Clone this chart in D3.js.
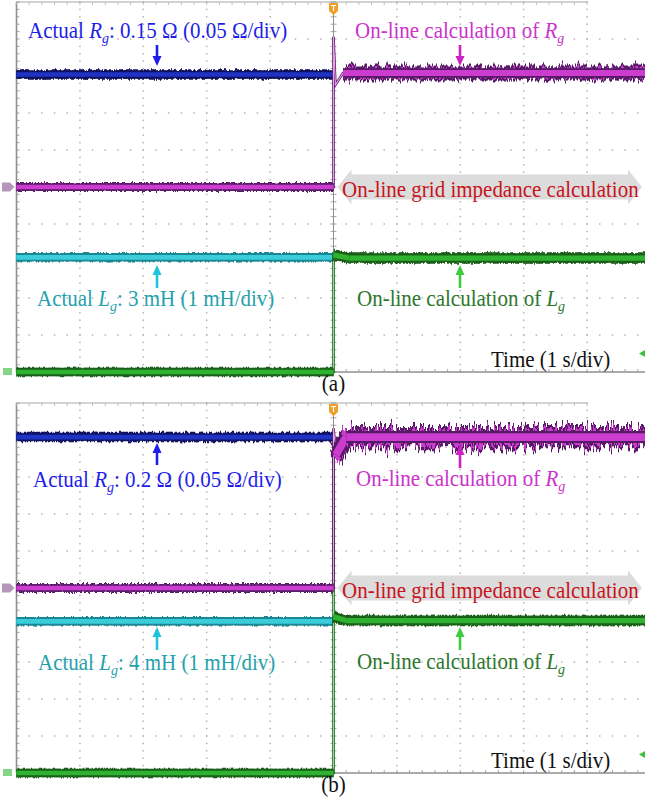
<!DOCTYPE html>
<html>
<head>
<meta charset="utf-8">
<script src="https://cdn.jsdelivr.net/npm/d3@7"></script>
<style>
    body { margin: 0; background: #fff; }
    svg { display: block; }
</style>
</head>
<body>
<div id="chart"></div>
<script>
const panelNames = ["(a)", "(b)"];

const timeDomain = [-5, 5];        // s, 1 s/div, trigger in the middle
const rgDomain = [-0.25, 0.25];    // Ω, 0.05 Ω/div, zero on the centre line
const lgDomain = [0, 10];          // mH, 1 mH/div, zero on the bottom line

const rgActual = [0.152, 0.204];   // Ω, drawn before the trigger
const lgActual = [3.1, 4.1];       // mH
const rgActualText = ["0.15 Ω", "0.2 Ω"];
const lgActualText = ["3 mH", "4 mH"];

// on-line calculations, [time (s), value]
const rgCalc = [
    [[-5, 0], [0, 0], [0, 0.203], [0.03, 0.138], [0.15, 0.154], [5, 0.154]],
    [[-5, 0], [0, 0], [0, 0.216], [0.04, 0.18], [0.2, 0.204], [5, 0.204]]
];
const lgCalc = [
    [[-5, 0], [0, 0], [0, 3.16], [0.25, 3.08], [5, 3.08]],
    [[-5, 0], [0, 0], [0, 9.0], [0, 4.22], [0.2, 4.12], [5, 4.12]]
];

// peak-to-peak noise on the traces (same units as the trace)
const rgActualNoise = [0.004, 0.005];
const lgActualNoise = [0.05, 0.05];
const rgCalcNoise = [0.012, 0.024];
const lgCalcNoise = [0.08, 0.08];

// ---- layout ----
const W = 645, H = 799;
const plotW = 634, plotH = 370, left = 16.5;
const panelTop = [2, 403];
const FONT = "Liberation Serif";

const svg = d3.select("#chart").append("svg")
    .attr("width", W).attr("height", H);
svg.append("rect").attr("width", W).attr("height", H).attr("fill", "#fff");
const defs = svg.append("defs");

const x = d3.scaleLinear().domain(timeDomain).range([left, left + plotW]);
const yDiv = d3.scaleLinear().domain([0, 10]).range([plotH, 0]);
const xDiv = d3.scaleLinear().domain([0, 10]).range([left, left + plotW]);
const yRg = d3.scaleLinear().domain(rgDomain).range([plotH, 0]);
const yLg = d3.scaleLinear().domain(lgDomain).range([plotH, 0]);

// scope noise look: vertical displacement driven by turbulence
let filterCount = 0;
function jitter(seed, px) {
    const id = "jit" + (filterCount++);
    const f = defs.append("filter").attr("id", id)
        .attr("filterUnits", "userSpaceOnUse")
        .attr("x", -10).attr("y", -60).attr("width", 680).attr("height", 500)
        .attr("color-interpolation-filters", "sRGB");
    f.append("feTurbulence").attr("type", "fractalNoise")
        .attr("baseFrequency", "0.45 0.01").attr("numOctaves", 2)
        .attr("seed", seed).attr("result", "n");
    f.append("feColorMatrix").attr("in", "n").attr("type", "matrix")
        .attr("values", "0 0 0 0 0.5  0 1 0 0 0  0 0 0 0 0  0 0 0 0 1")
        .attr("result", "m");
    f.append("feDisplacementMap").attr("in", "SourceGraphic").attr("in2", "m")
        .attr("scale", Math.max(px * 2, 1))
        .attr("xChannelSelector", "R").attr("yChannelSelector", "G");
    return `url(#${id})`;
}

// one trace: thin path for the jumps, noisy band for the flat parts
function drawTrace(g, pts, yScale, st, noisePre, noisePost, seed) {
    const line = d3.line().x(d => x(d[0])).y(d => yScale(d[1]));
    const px = n => Math.abs(yScale(0) - yScale(n));
    const fPre = [jitter(seed, px(noisePre)), jitter(seed + 11, px(noisePre))];
    const fPost = [jitter(seed + 5, px(noisePost)), jitter(seed + 17, px(noisePost)), jitter(seed + 23, px(noisePost))];
    g.append("path").attr("d", line(pts))
        .attr("fill", "none").attr("stroke", st.outer).attr("stroke-width", 2.6);
    g.append("path").attr("d", line(pts))
        .attr("fill", "none").attr("stroke", st.light).attr("stroke-width", 1.1);
    for (let i = 1; i < pts.length; i++) {
        const p0 = pts[i - 1], p1 = pts[i];
        if (Math.abs(x(p1[0]) - x(p0[0])) < 9) continue;   // jumps and dips stay thin
        const pre = p0[0] < 0;
        const fs = pre ? fPre : fPost;
        const w = st.w + (pre ? 0 : px(noisePost) * 0.35);
        fs.forEach(f => {
            const seg = g.append("g").attr("filter", f);
            seg.append("path").attr("d", line([p0, p1]))
                .attr("fill", "none").attr("stroke", st.outer).attr("stroke-width", w);
            seg.append("path").attr("d", line([p0, p1]))
                .attr("fill", "none").attr("stroke", st.inner).attr("stroke-width", w * 0.55);
        });
        g.append("path").attr("d", line([p0, p1]))
            .attr("fill", "none").attr("stroke", st.outer).attr("stroke-width", w * 0.85);
        g.append("path").attr("d", line([p0, p1]))
            .attr("fill", "none").attr("stroke", st.inner).attr("stroke-width", w * 0.55);
    }
}

function arrow(g, xPos, yTail, yTip, color) {
    const dir = yTip > yTail ? 1 : -1;
    g.append("line").attr("x1", xPos).attr("x2", xPos)
        .attr("y1", yTail).attr("y2", yTip - dir * 8)
        .attr("stroke", color).attr("stroke-width", 2.6);
    g.append("path")
        .attr("d", `M${xPos - 4.5},${yTip - dir * 10}L${xPos + 4.5},${yTip - dir * 10}L${xPos},${yTip}Z`)
        .attr("fill", color);
}

// serif text, a little taller than wide like the captured figure
function txt(g, xPos, yPos, color, size) {
    return g.append("text")
        .attr("transform", `translate(${xPos},${yPos}) scale(1,1.1)`)
        .attr("fill", color).attr("font-size", size)
        .style("font-family", FONT);
}

// text with an italic symbol and subscript g
function label(g, xPos, yPos, color, before, sym, after) {
    const t = txt(g, xPos, yPos, color, 21);
    t.append("tspan").text(before);
    t.append("tspan").attr("font-style", "italic").text(sym);
    t.append("tspan").attr("font-style", "italic").attr("font-size", 14).attr("dy", 4.5).text("g");
    if (after) t.append("tspan").attr("dy", -4.5).text(after);
    return t;
}

const blue = { outer: "#10105c", inner: "#1f33c4", light: "#4a5ae0", w: 8.5 };
const magenta = { outer: "#561a66", inner: "#cc3dcf", light: "#e8a0e8", w: 8 };
const cyan = { outer: "#1a8894", inner: "#3ccddb", light: "#9ae8ee", w: 8.5 };
const green = { outer: "#1a5e1a", inner: "#2fb22f", light: "#8ee08e", w: 8.5 };

panelNames.forEach((name, p) => {
    const g = svg.append("g").attr("transform", `translate(0,${panelTop[p]})`);

    // graticule dots
    const minor = d3.range(0, 10.001, 0.2);
    const dots = g.append("g").attr("fill", "#b4b4b4");
    d3.range(1, 10).forEach(r => {
        minor.forEach(m => dots.append("rect")
            .attr("x", xDiv(m) - 0.75).attr("y", yDiv(r) - 0.75)
            .attr("width", 1.5).attr("height", 1.5));
    });
    d3.range(1, 10).filter(c => c !== 5).forEach(c => {
        minor.forEach(m => dots.append("rect")
            .attr("x", xDiv(c) - 0.75).attr("y", yDiv(m) - 0.75)
            .attr("width", 1.5).attr("height", 1.5));
    });

    // frame and centre axis with minor ticks
    const frame = g.append("g").attr("stroke", "#8f8f8f").attr("fill", "none");
    frame.append("line").attr("x1", left).attr("x2", left).attr("y1", 0).attr("y2", plotH).attr("stroke-width", 1.6);
    frame.append("line").attr("x1", left).attr("x2", W).attr("y1", plotH).attr("y2", plotH).attr("stroke-width", 1.6);
    frame.append("line").attr("x1", left).attr("x2", xDiv(9)).attr("y1", 0).attr("y2", 0)
        .attr("stroke", "#a8a8a8").attr("stroke-width", 1.2);
    frame.append("line").attr("x1", x(0)).attr("x2", x(0)).attr("y1", 0).attr("y2", plotH).attr("stroke-width", 1);
    minor.forEach(m => {
        frame.append("line").attr("x1", left).attr("x2", left + 3).attr("y1", yDiv(m)).attr("y2", yDiv(m)).attr("stroke-width", 0.8);
        frame.append("line").attr("x1", x(0) - 3).attr("x2", x(0) + 3).attr("y1", yDiv(m)).attr("y2", yDiv(m)).attr("stroke-width", 0.8);
        frame.append("line").attr("x1", xDiv(m)).attr("x2", xDiv(m)).attr("y1", plotH).attr("y2", plotH - 3).attr("stroke-width", 0.8);
        if (m <= 9) frame.append("line").attr("x1", xDiv(m)).attr("x2", xDiv(m)).attr("y1", 0).attr("y2", 3)
            .attr("stroke", "#b0b0b0").attr("stroke-width", 0.8);
    });

    // grey double arrow behind the calculation label
    const cy = yRg(0), tipL = x(0) + 4, tipR = W - 3;
    g.append("path")
        .attr("d", `M${tipL},${cy}L${tipL + 14},${cy - 17.5}L${tipL + 14},${cy - 12.5}` +
            `L${tipR - 14},${cy - 12.5}L${tipR - 14},${cy - 17.5}L${tipR},${cy}` +
            `L${tipR - 14},${cy + 17.5}L${tipR - 14},${cy + 12.5}L${tipL + 14},${cy + 12.5}` +
            `L${tipL + 14},${cy + 17.5}Z`)
        .attr("fill", "#dcdcdc");

    // traces
    const seed = 3 + p * 40;
    const tr = g.append("g");
    drawTrace(tr, [[timeDomain[0], lgActual[p]], [0, lgActual[p]]], yLg, cyan, lgActualNoise[p], lgActualNoise[p], seed);
    drawTrace(tr, lgCalc[p], yLg, green, lgActualNoise[p], lgCalcNoise[p], seed + 1);
    drawTrace(tr, [[timeDomain[0], rgActual[p]], [0, rgActual[p]]], yRg, blue, rgActualNoise[p], rgActualNoise[p], seed + 2);
    drawTrace(tr, rgCalc[p], yRg, magenta, rgActualNoise[p], rgCalcNoise[p], seed + 3);

    // channel and trigger markers
    g.append("path").attr("d", `M2,${yRg(0) - 4.5}L10,${yRg(0) - 4.5}L14.5,${yRg(0)}L10,${yRg(0) + 4.5}L2,${yRg(0) + 4.5}Z`)
        .attr("fill", "#b497b8");
    g.append("rect").attr("x", 3).attr("y", yLg(0) - 4).attr("width", 9).attr("height", 7)
        .attr("fill", "#86d486");
    g.append("path").attr("d", `M${x(0) - 4.5},1L${x(0) + 4.5},1L${x(0) + 4.5},9L${x(0)},13L${x(0) - 4.5},9Z`)
        .attr("fill", "#f0a02a");
    g.append("path").attr("d", `M${x(0) - 2.5},3.5H${x(0) + 2.5}M${x(0)},3.5V9`)
        .attr("stroke", "#fff").attr("stroke-width", 1.2);
    g.append("path").attr("d", `M${W - 6},${yDiv(0.5)}L${W},${yDiv(0.5) - 3.5}L${W},${yDiv(0.5) + 3.5}Z`)
        .attr("fill", "#38c238");

    // annotations
    const ann = g.append("g");
    if (p === 0) {
        label(ann, 28, 36, "#1e1ee8", "Actual ", "R", `: ${rgActualText[p]} (0.05 Ω/div)`);
        arrow(ann, 157, 43, 64, "#1e1ee8");
        label(ann, 355, 36, "#cc33cc", "On-line calculation of ", "R");
        arrow(ann, 460, 43, 64, "#cc22c4");
        arrow(ann, 157, 286, 263, "#1ec3dc");
        label(ann, 37, 304, "#1fa2ad", "Actual ", "L", `: ${lgActualText[p]} (1 mH/div)`);
        arrow(ann, 460, 286, 263, "#3fcb3f");
        label(ann, 357, 304, "#2e772e", "On-line calculation of ", "L");
    } else {
        arrow(ann, 157, 62, 40, "#1e1ee8");
        label(ann, 33, 84, "#1e1ee8", "Actual ", "R", `: ${rgActualText[p]} (0.05 Ω/div)`);
        arrow(ann, 460, 65, 42, "#cc22c4");
        label(ann, 356, 83, "#cc33cc", "On-line calculation of ", "R");
        arrow(ann, 157, 247, 224, "#1ec3dc");
        label(ann, 38, 267, "#1fa2ad", "Actual ", "L", `: ${lgActualText[p]} (1 mH/div)`);
        arrow(ann, 460, 247, 224, "#3fcb3f");
        label(ann, 357, 266, "#2e772e", "On-line calculation of ", "L");
    }
    txt(ann, 342, cy + 10, "#c8141c", 21).text("On-line grid impedance calculation");
    txt(ann, 491, 365, "#111", 21).text("Time (1 s/div)");

    txt(g, x(0), plotH + 19, "#111", 21)
        .attr("text-anchor", "middle")
        .text(name);
});
</script>
</body>
</html>
